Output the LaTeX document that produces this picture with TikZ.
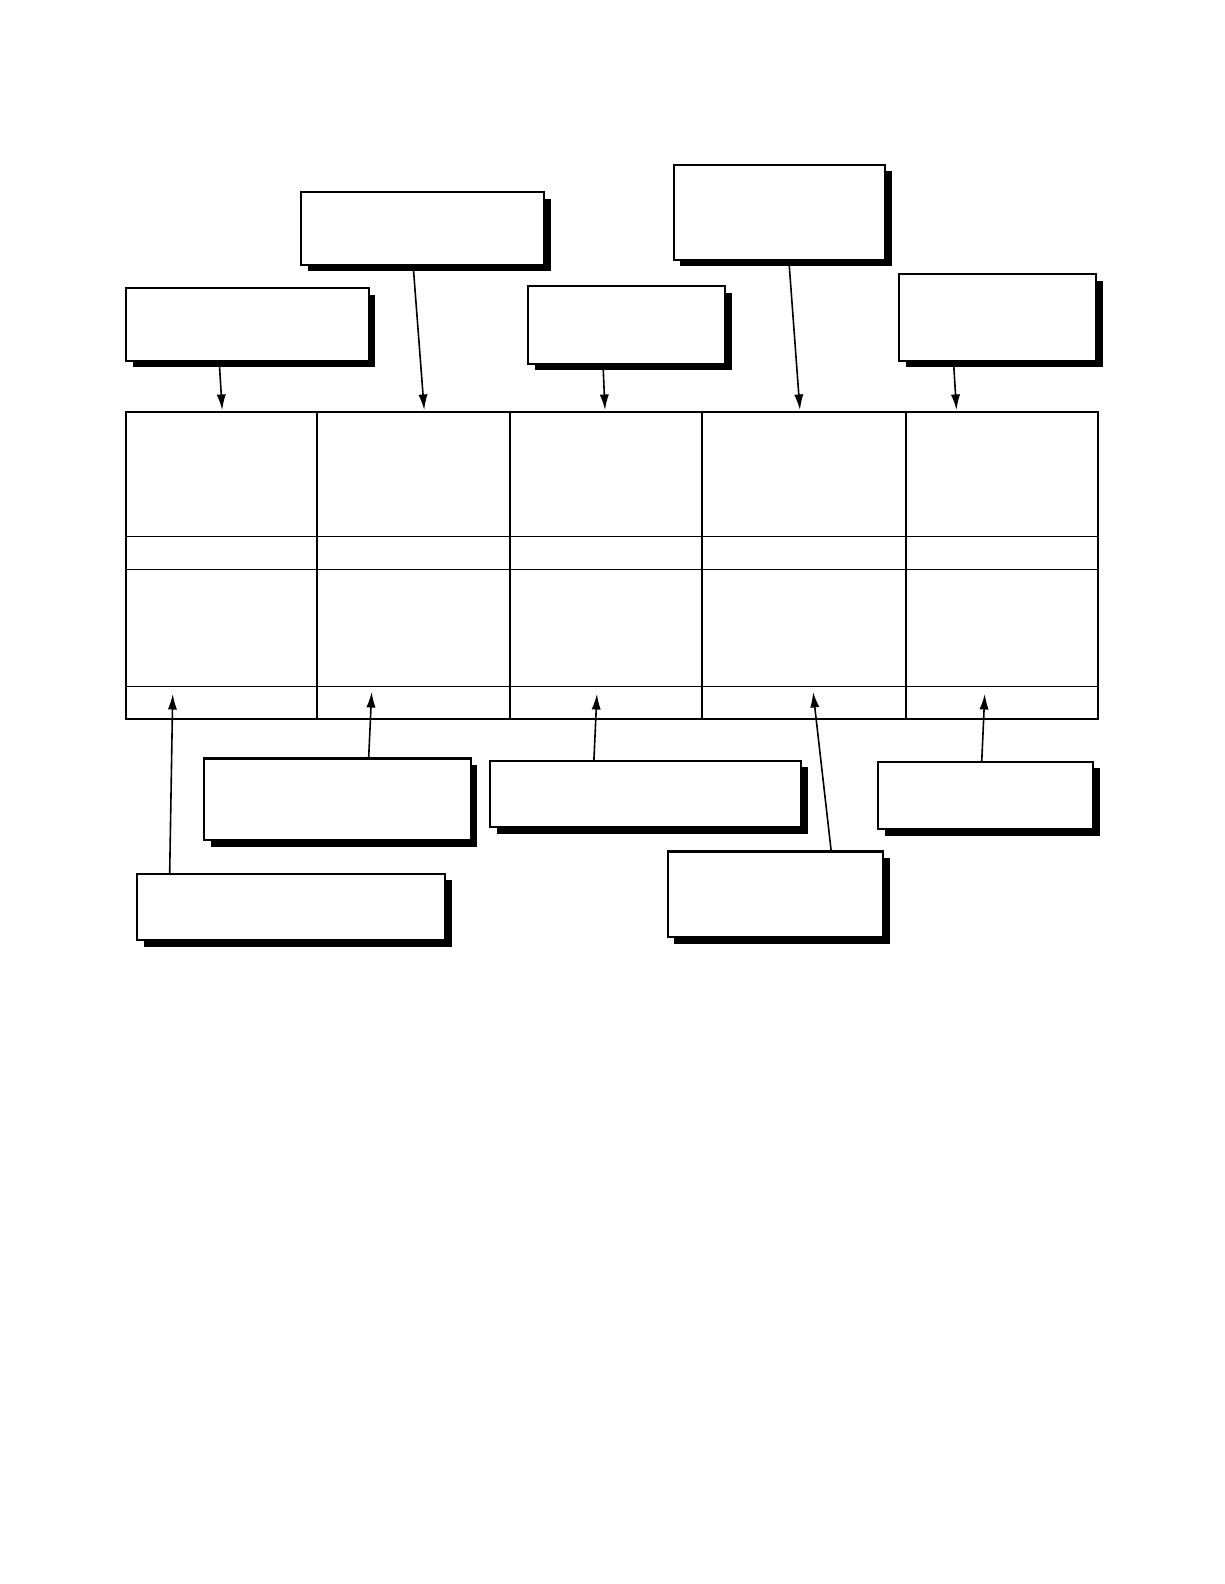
\documentclass[tikz,border=0pt]{standalone}
\usetikzlibrary{shadows,arrows.meta}
\def\u{0.505bp}
\tikzset{
  callout/.style={draw=black, line width=1.05bp, fill=white, inner sep=0pt, outer sep=0pt,
    drop shadow={shadow xshift=3.4bp, shadow yshift=-3.4bp, fill=black, opacity=1}},
  pointer/.style={line width=0.8bp, -{Latex[length=7.8bp,width=4.6bp]}},
  gridline/.style={line width=0.65bp},
}
\newcommand{\cbox}[5]{% name, x1, y1, x2, y2
  \node[callout, anchor=north west, minimum width={(#4-#2)*\u}, minimum height={(#5-#3)*\u}] (#1) at (#2,#3) {};}
\begin{document}
\begin{tikzpicture}[x=\u,y=-\u]
\useasboundingbox (0,0) rectangle (1211.9,1568.3);
% top callouts
\cbox{A}{125}{285}{365}{357}
\cbox{B}{298}{190}{539}{262}
\cbox{C}{523}{283}{718}{360}
\cbox{D}{667}{163}{876}{257}
\cbox{E}{890}{271}{1085}{357}
% bottom callouts
\cbox{F}{202}{751}{466}{832}
\cbox{G}{485}{753}{793}{819}
\cbox{H}{869}{754}{1082}{821}
\cbox{I}{136}{865}{441}{931}
\cbox{J}{661}{843}{874}{928}
% table
\node[draw, line width=0.85bp, anchor=north west, minimum width={962*\u}, minimum height={304*\u}, inner sep=0pt, outer sep=0pt] (T) at (125,408) {};
\foreach \x in {314,505,695,897} \draw[gridline] (\x,408) -- (\x,712);
\foreach \y in {531,564,680} \draw[gridline] (125,\y) -- (1087,\y);
% arrow coordinates
\coordinate (sA) at (217,357); \coordinate (tA) at (220,406);
\coordinate (sB) at (409,262); \coordinate (tB) at (420,406);
\coordinate (sC) at (597,360); \coordinate (tC) at (599,406);
\coordinate (sD) at (781,257); \coordinate (tD) at (792,406);
\coordinate (sE) at (944,357); \coordinate (tE) at (947,406);
\coordinate (sI) at (168,865); \coordinate (tI) at (171,687);
\coordinate (sF) at (365,751); \coordinate (tF) at (368,685);
\coordinate (sG) at (588,753); \coordinate (tG) at (591,687);
\coordinate (sJ) at (823,843); \coordinate (tJ) at (805,685);
\coordinate (sH) at (972,754); \coordinate (tH) at (975,687);
\foreach \n in {A,B,C,D,E,I,F,G,J,H} \draw[pointer] (s\n) -- (t\n);
\end{tikzpicture}
\end{document}
